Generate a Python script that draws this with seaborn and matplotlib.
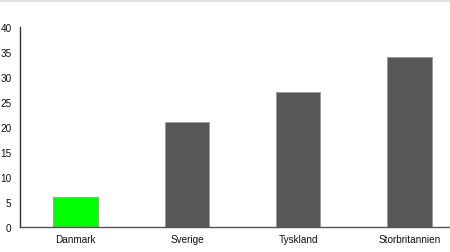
import matplotlib
matplotlib.use("Agg")
import matplotlib.pyplot as plt
import seaborn as sns
import pandas as pd

categories = ["Danmark", "Sverige", "Tyskland", "Storbritannien"]
values = [6, 21, 27, 34]
colors = ["#00ff00", "#575757", "#575757", "#575757"]
yticks = [0, 5, 10, 15, 20, 25, 30, 35, 40]

sns.set_style("white")
plt.rcParams["font.family"] = ["Liberation Sans", "DejaVu Sans"]

df = pd.DataFrame({"land": categories, "value": values})

fig = plt.figure(figsize=(4.5, 2.53), dpi=100)
ax = fig.add_axes([20/450, 25/253, 430/450, 200/253])
sns.barplot(data=df, x="land", y="value", hue="land",
            palette=dict(zip(categories, colors)), legend=False,
            width=0.4, ax=ax, edgecolor="#9a9a9a", linewidth=0.6, saturation=1)

ax.set_xlim(-0.5, 3.364)
ax.set_ylim(0, 40)
ax.set_yticks(yticks)
ax.set_yticklabels([str(t) for t in yticks])
ax.set_xlabel("")
ax.set_ylabel("")
for s in ["top", "right"]:
    ax.spines[s].set_visible(False)
ax.spines["left"].set_color("#333333")
ax.spines["left"].set_linewidth(1.0)
ax.spines["bottom"].set_color("#555555")
ax.spines["bottom"].set_linewidth(1.0)
ax.tick_params(axis="y", length=0, pad=6, labelsize=7.2, labelcolor="#111111")
ax.tick_params(axis="x", length=0, pad=5, labelsize=7.2, labelcolor="#111111")

fig.add_artist(plt.Line2D([0, 1], [1 - 1.5/253, 1 - 1.5/253], color="#dddddd", linewidth=1.2, transform=fig.transFigure))

fig.savefig("out.png", dpi=100)
